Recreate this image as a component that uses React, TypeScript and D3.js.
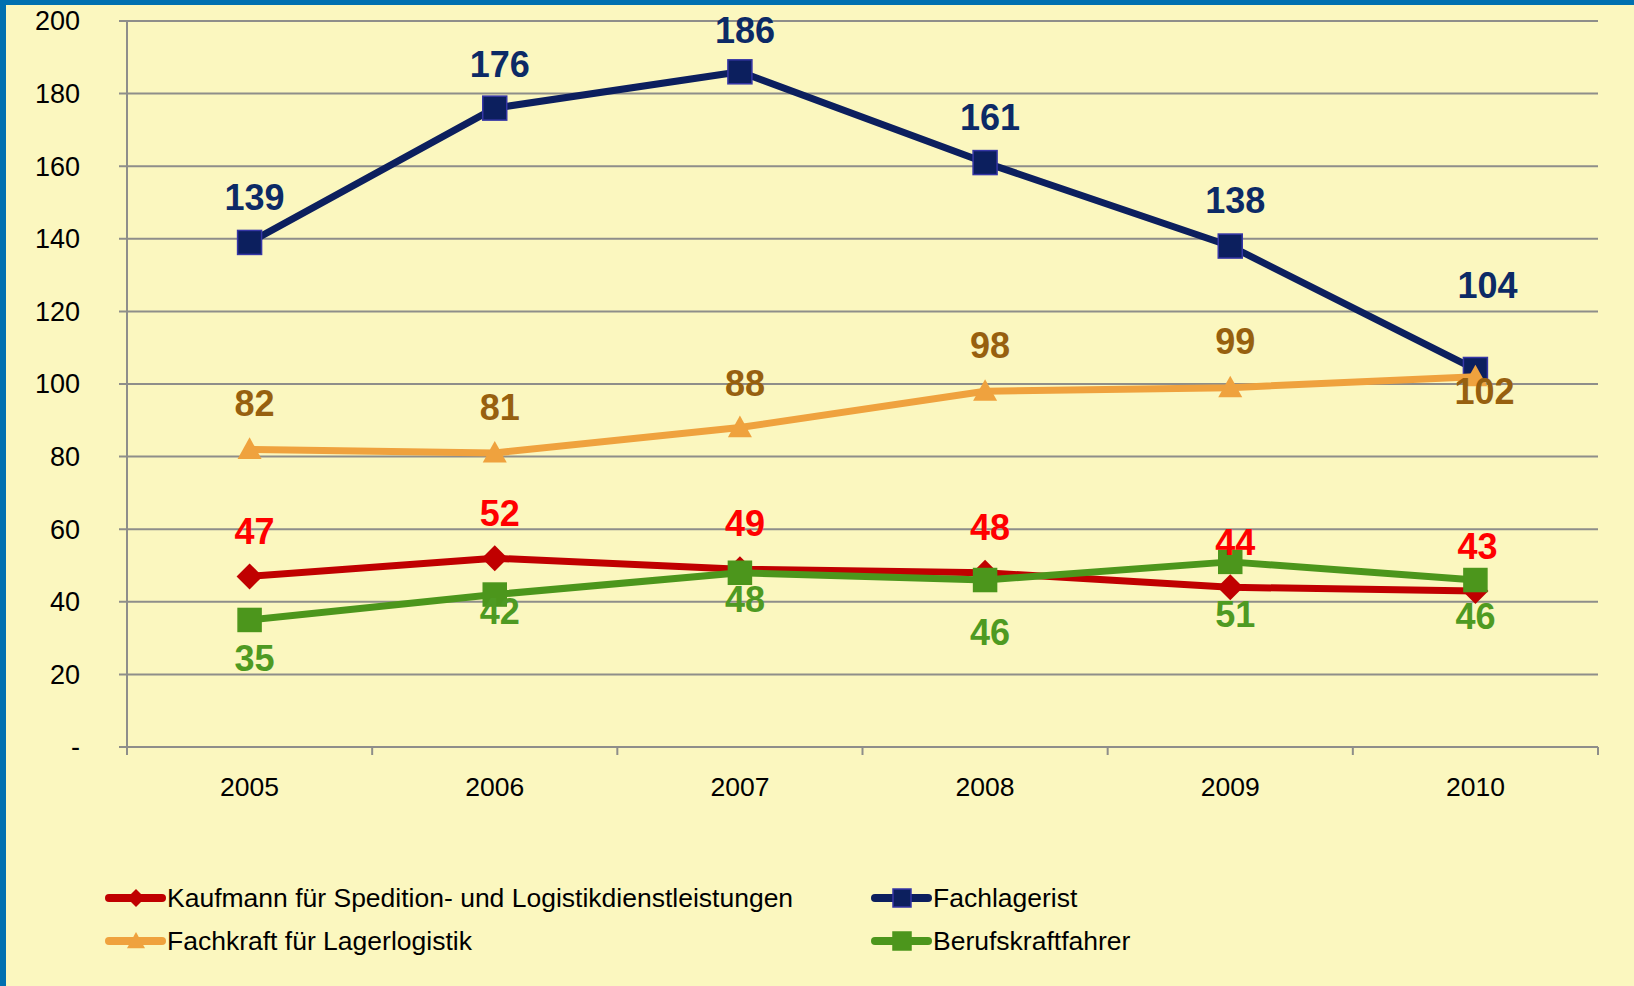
import { useEffect, useRef } from 'react'
import * as d3 from 'd3'

const years = ['2005', '2006', '2007', '2008', '2009', '2010']
const yTicks = [0, 20, 40, 60, 80, 100, 120, 140, 160, 180, 200]

const kaufmann = [47, 52, 49, 48, 44, 43]
const fachlagerist = [139, 176, 186, 161, 138, 104]
const fachkraft = [82, 81, 88, 98, 99, 102]
const berufskraftfahrer = [35, 42, 48, 46, 51, 46]

const seriesNames = [
  'Kaufmann für Spedition- und Logistikdienstleistungen',
  'Fachlagerist',
  'Fachkraft für Lagerlogistik',
  'Berufskraftfahrer',
]

export default function App() {
  const svgRef = useRef<SVGSVGElement>(null)

  useEffect(() => {
    const W = 1634
    const H = 986
    const svg = d3.select(svgRef.current)
    svg.selectAll('*').remove()
    svg.attr('width', W).attr('height', H)

    const font = 'Liberation Sans, Arial, sans-serif'

    // background + blue frame
    svg.append('rect').attr('width', W).attr('height', H).attr('fill', '#0070B0')
    svg.append('rect').attr('x', 6).attr('y', 5).attr('width', W - 6).attr('height', H - 5).attr('fill', '#FBF7BF')

    const left = 127
    const right = 1598
    const top = 21
    const bottom = 747

    const x = d3.scaleBand().domain(years).range([left, right])
    const y = d3.scaleLinear().domain([0, 200]).range([bottom, top])
    const cx = (i: number) => (x(years[i]) || 0) + x.bandwidth() / 2

    // gridlines
    svg.append('g')
      .selectAll('line')
      .data(yTicks)
      .enter()
      .append('line')
      .attr('x1', left - 8)
      .attr('x2', right)
      .attr('y1', d => y(d))
      .attr('y2', d => y(d))
      .attr('stroke', '#8E8E8A')
      .attr('stroke-width', 2)

    // y axis line
    svg.append('line')
      .attr('x1', left).attr('x2', left)
      .attr('y1', top).attr('y2', bottom + 8)
      .attr('stroke', '#8E8E8A').attr('stroke-width', 2)

    // x ticks
    const bounds = years.map(d => x(d) || 0).concat([right])
    svg.append('g')
      .selectAll('line')
      .data(bounds)
      .enter()
      .append('line')
      .attr('x1', d => d).attr('x2', d => d)
      .attr('y1', bottom).attr('y2', bottom + 8)
      .attr('stroke', '#8E8E8A').attr('stroke-width', 2)

    // y tick labels
    svg.append('g')
      .selectAll('text')
      .data(yTicks)
      .enter()
      .append('text')
      .attr('x', 80)
      .attr('y', d => y(d))
      .attr('dy', '0.35em')
      .attr('text-anchor', 'end')
      .attr('font-family', font)
      .attr('font-size', 27)
      .attr('fill', '#000')
      .text(d => (d === 0 ? '-' : String(d)))

    // x tick labels
    svg.append('g')
      .selectAll('text')
      .data(years)
      .enter()
      .append('text')
      .attr('x', (d, i) => cx(i))
      .attr('y', 787)
      .attr('dy', '0.35em')
      .attr('text-anchor', 'middle')
      .attr('font-family', font)
      .attr('font-size', 26.5)
      .attr('fill', '#000')
      .text(d => d)

    const line = d3.line<number>()
      .x((d, i) => cx(i))
      .y(d => y(d))

    const drawMarker = (g: any, kind: string, px: number, py: number, fill: string, stroke: string, s: number) => {
      if (kind === 'square') {
        g.append('rect')
          .attr('x', px - s / 2).attr('y', py - s / 2)
          .attr('width', s).attr('height', s)
          .attr('fill', fill).attr('stroke', stroke).attr('stroke-width', 1.5)
      } else if (kind === 'diamond') {
        const r = s / 2
        g.append('path')
          .attr('d', `M${px},${py - r}L${px + r},${py}L${px},${py + r}L${px - r},${py}Z`)
          .attr('fill', fill)
      } else {
        const r = s / 2
        g.append('path')
          .attr('d', `M${px},${py - r}L${px + r},${py + r * 0.8}L${px - r},${py + r * 0.8}Z`)
          .attr('fill', fill)
      }
    }

    const series = [
      { values: kaufmann, color: '#C00000', marker: 'diamond', mFill: '#C00000', mStroke: 'none', size: 26 },
      { values: fachlagerist, color: '#0C1F5E', marker: 'square', mFill: '#0C1F5E', mStroke: '#3636A6', size: 24 },
      { values: fachkraft, color: '#EFA23E', marker: 'triangle', mFill: '#EFA23E', mStroke: 'none', size: 24 },
      { values: berufskraftfahrer, color: '#4C961C', marker: 'square', mFill: '#4C961C', mStroke: '#4C961C', size: 23 },
    ]

    series.forEach(s => {
      const g = svg.append('g')
      g.append('path')
        .attr('d', line(s.values) || '')
        .attr('fill', 'none')
        .attr('stroke', s.color)
        .attr('stroke-width', 7)
        .attr('stroke-linejoin', 'round')
      s.values.forEach((v, i) => drawMarker(g, s.marker, cx(i), y(v), s.mFill, s.mStroke, s.size))
    })

    // data labels (offsets: label placement as in the original chart)
    const labels = [
      { values: kaufmann, color: '#FF0000', dx: [5, 5, 5, 5, 5, 2], dy: [-45, -45, -46, -45, -45, -45] },
      { values: fachlagerist, color: '#0C2A66', dx: [5, 5, 5, 5, 5, 12], dy: [-45, -44, -41, -45, -46, -84] },
      { values: fachkraft, color: '#97600F', dx: [5, 5, 5, 5, 5, 9], dy: [-46, -46, -44, -46, -46, 15] },
      { values: berufskraftfahrer, color: '#4E9A22', dx: [5, 5, 5, 5, 5, 0], dy: [38, 17, 27, 52, 53, 36] },
    ]

    labels.forEach(l => {
      svg.append('g')
        .selectAll('text')
        .data(l.values)
        .enter()
        .append('text')
        .attr('x', (d, i) => cx(i) + l.dx[i])
        .attr('y', (d, i) => y(d) + l.dy[i])
        .attr('dy', '0.35em')
        .attr('text-anchor', 'middle')
        .attr('font-family', font)
        .attr('font-weight', 'bold')
        .attr('font-size', 36)
        .attr('fill', l.color)
        .text(d => String(d))
    })

    // legend
    const legendPos = [
      { x: 109, y: 898 },
      { x: 875, y: 898 },
      { x: 109, y: 941 },
      { x: 875, y: 941 },
    ]
    series.forEach((s, i) => {
      const p = legendPos[i]
      const g = svg.append('g')
      g.append('line')
        .attr('x1', p.x).attr('x2', p.x + 53)
        .attr('y1', p.y).attr('y2', p.y)
        .attr('stroke', s.color).attr('stroke-width', 8)
        .attr('stroke-linecap', 'round')
      drawMarker(g, s.marker, p.x + 27, p.y, s.mFill, s.mStroke, 18)
      g.append('text')
        .attr('x', p.x + 58)
        .attr('y', p.y)
        .attr('dy', '0.35em')
        .attr('font-family', font)
        .attr('font-size', 26.5)
        .attr('fill', '#000')
        .text(seriesNames[i])
    })
  }, [])

  return (
    <svg ref={svgRef} style={{ position: 'absolute', left: 0, top: 0, display: 'block' }}></svg>
  )
}
